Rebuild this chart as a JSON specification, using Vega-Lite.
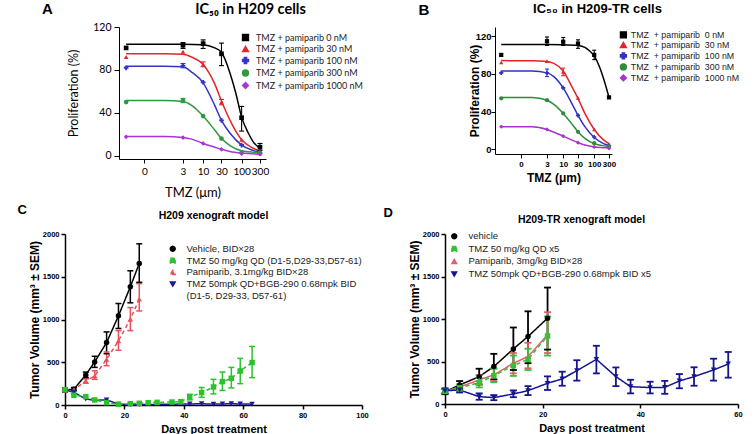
{
  "$schema": "https://vega.github.io/schema/vega-lite/v6.json",
  "background": "white",
  "padding": {"left": 17, "top": 1, "right": 0, "bottom": 0},
  "spacing": 4,
  "resolve": {"scale": {"color": "independent", "shape": "independent", "strokeDash": "independent"}, "legend": {"color": "independent", "shape": "independent", "strokeDash": "independent"}},
  "config": {
    "view": {"stroke": null},
    "axis": {"grid": false, "domainColor": "#000", "tickColor": "#000", "labelColor": "#000", "titleColor": "#000", "labelOverlap": false, "labelFlush": false}
  },
  "datasets": {
    "aPts": [
      {"s": "0 nM", "x": 0.1, "y": 100.5},
      {"s": "0 nM", "x": 3, "y": 103, "lo": 100, "hi": 105.5},
      {"s": "0 nM", "x": 10, "y": 104.5, "lo": 100, "hi": 108},
      {"s": "0 nM", "x": 30, "y": 95, "lo": 84, "hi": 105},
      {"s": "0 nM", "x": 100, "y": 35.5, "lo": 23, "hi": 46},
      {"s": "0 nM", "x": 300, "y": 8, "lo": 5, "hi": 11.5},
      {"s": "30 nM", "x": 0.1, "y": 92},
      {"s": "30 nM", "x": 3, "y": 97},
      {"s": "30 nM", "x": 10, "y": 85, "lo": 83, "hi": 87.5},
      {"s": "30 nM", "x": 30, "y": 50, "lo": 47.5, "hi": 52.5},
      {"s": "30 nM", "x": 100, "y": 15},
      {"s": "30 nM", "x": 300, "y": 2.5},
      {"s": "100 nM", "x": 0.1, "y": 82},
      {"s": "100 nM", "x": 3, "y": 84, "lo": 82, "hi": 86},
      {"s": "100 nM", "x": 10, "y": 68.5},
      {"s": "100 nM", "x": 30, "y": 33},
      {"s": "100 nM", "x": 100, "y": 10},
      {"s": "100 nM", "x": 300, "y": 2.5},
      {"s": "300 nM", "x": 0.1, "y": 50},
      {"s": "300 nM", "x": 3, "y": 51.5, "lo": 49.5, "hi": 53.5},
      {"s": "300 nM", "x": 10, "y": 37},
      {"s": "300 nM", "x": 30, "y": 16},
      {"s": "300 nM", "x": 100, "y": 3},
      {"s": "300 nM", "x": 300, "y": 3},
      {"s": "1000 nM", "x": 0.1, "y": 17.7},
      {"s": "1000 nM", "x": 3, "y": 17},
      {"s": "1000 nM", "x": 10, "y": 11.5},
      {"s": "1000 nM", "x": 30, "y": 6},
      {"s": "1000 nM", "x": 100, "y": 2},
      {"s": "1000 nM", "x": 300, "y": 1.5}
    ],
    "aFit": [
      {"s": "0 nM", "x": 0.1, "y": 104}, {"s": "0 nM", "x": 1, "y": 104}, {"s": "0 nM", "x": 3, "y": 104}, {"s": "0 nM", "x": 10, "y": 103.5}, {"s": "0 nM", "x": 20, "y": 100.5}, {"s": "0 nM", "x": 30, "y": 96.5}, {"s": "0 nM", "x": 50, "y": 77}, {"s": "0 nM", "x": 70, "y": 59}, {"s": "0 nM", "x": 100, "y": 36}, {"s": "0 nM", "x": 150, "y": 21}, {"s": "0 nM", "x": 200, "y": 13}, {"s": "0 nM", "x": 300, "y": 7},
      {"s": "30 nM", "x": 0.1, "y": 95}, {"s": "30 nM", "x": 1, "y": 95}, {"s": "30 nM", "x": 3, "y": 94.5}, {"s": "30 nM", "x": 5, "y": 92}, {"s": "30 nM", "x": 10, "y": 85}, {"s": "30 nM", "x": 20, "y": 67}, {"s": "30 nM", "x": 30, "y": 51}, {"s": "30 nM", "x": 50, "y": 33}, {"s": "30 nM", "x": 100, "y": 15}, {"s": "30 nM", "x": 200, "y": 7}, {"s": "30 nM", "x": 300, "y": 4},
      {"s": "100 nM", "x": 0.1, "y": 83.5}, {"s": "100 nM", "x": 1, "y": 83.5}, {"s": "100 nM", "x": 3, "y": 83}, {"s": "100 nM", "x": 5, "y": 78}, {"s": "100 nM", "x": 10, "y": 68}, {"s": "100 nM", "x": 20, "y": 47}, {"s": "100 nM", "x": 30, "y": 33}, {"s": "100 nM", "x": 50, "y": 21}, {"s": "100 nM", "x": 100, "y": 10}, {"s": "100 nM", "x": 200, "y": 5}, {"s": "100 nM", "x": 300, "y": 3},
      {"s": "300 nM", "x": 0.1, "y": 51.5}, {"s": "300 nM", "x": 1, "y": 51.5}, {"s": "300 nM", "x": 3, "y": 50.5}, {"s": "300 nM", "x": 5, "y": 47}, {"s": "300 nM", "x": 10, "y": 37}, {"s": "300 nM", "x": 20, "y": 24}, {"s": "300 nM", "x": 30, "y": 16}, {"s": "300 nM", "x": 50, "y": 9.5}, {"s": "300 nM", "x": 100, "y": 4.6}, {"s": "300 nM", "x": 300, "y": 2.8},
      {"s": "1000 nM", "x": 0.1, "y": 18}, {"s": "1000 nM", "x": 1, "y": 18}, {"s": "1000 nM", "x": 3, "y": 17}, {"s": "1000 nM", "x": 5, "y": 15.5}, {"s": "1000 nM", "x": 10, "y": 11.5}, {"s": "1000 nM", "x": 20, "y": 8}, {"s": "1000 nM", "x": 30, "y": 6}, {"s": "1000 nM", "x": 50, "y": 4}, {"s": "1000 nM", "x": 100, "y": 2.5}, {"s": "1000 nM", "x": 300, "y": 1.5}
    ],
    "bPts": [
      {"s": "0 nM", "x": 0.1, "y": 100},
      {"s": "0 nM", "x": 3, "y": 114.5, "lo": 110, "hi": 119},
      {"s": "0 nM", "x": 10, "y": 114, "lo": 110, "hi": 118.5},
      {"s": "0 nM", "x": 30, "y": 112, "lo": 107, "hi": 116},
      {"s": "0 nM", "x": 100, "y": 100, "lo": 95, "hi": 105},
      {"s": "0 nM", "x": 300, "y": 55},
      {"s": "30 nM", "x": 0.1, "y": 92},
      {"s": "30 nM", "x": 3, "y": 93.5},
      {"s": "30 nM", "x": 10, "y": 82, "lo": 78, "hi": 86},
      {"s": "30 nM", "x": 30, "y": 54.5},
      {"s": "30 nM", "x": 100, "y": 21},
      {"s": "30 nM", "x": 300, "y": 5.3},
      {"s": "100 nM", "x": 0.1, "y": 81},
      {"s": "100 nM", "x": 3, "y": 81, "lo": 77, "hi": 85},
      {"s": "100 nM", "x": 10, "y": 65},
      {"s": "100 nM", "x": 30, "y": 36},
      {"s": "100 nM", "x": 100, "y": 13},
      {"s": "100 nM", "x": 300, "y": 3.5},
      {"s": "300 nM", "x": 0.1, "y": 54},
      {"s": "300 nM", "x": 3, "y": 52},
      {"s": "300 nM", "x": 10, "y": 38},
      {"s": "300 nM", "x": 30, "y": 18.5},
      {"s": "300 nM", "x": 100, "y": 6.4},
      {"s": "300 nM", "x": 300, "y": 3},
      {"s": "1000 nM", "x": 0.1, "y": 24},
      {"s": "1000 nM", "x": 3, "y": 21},
      {"s": "1000 nM", "x": 10, "y": 14},
      {"s": "1000 nM", "x": 30, "y": 7},
      {"s": "1000 nM", "x": 100, "y": 2.5},
      {"s": "1000 nM", "x": 300, "y": 1}
    ],
    "bFit": [
      {"s": "0 nM", "x": 0.1, "y": 111}, {"s": "0 nM", "x": 1, "y": 111}, {"s": "0 nM", "x": 3, "y": 111}, {"s": "0 nM", "x": 10, "y": 110.8}, {"s": "0 nM", "x": 30, "y": 110}, {"s": "0 nM", "x": 50, "y": 108}, {"s": "0 nM", "x": 70, "y": 104.5}, {"s": "0 nM", "x": 100, "y": 99}, {"s": "0 nM", "x": 150, "y": 87}, {"s": "0 nM", "x": 200, "y": 75}, {"s": "0 nM", "x": 300, "y": 55},
      {"s": "30 nM", "x": 0.1, "y": 94}, {"s": "30 nM", "x": 1, "y": 93.8}, {"s": "30 nM", "x": 3, "y": 93}, {"s": "30 nM", "x": 5, "y": 91}, {"s": "30 nM", "x": 10, "y": 83}, {"s": "30 nM", "x": 20, "y": 65}, {"s": "30 nM", "x": 30, "y": 54}, {"s": "30 nM", "x": 50, "y": 38}, {"s": "30 nM", "x": 100, "y": 21}, {"s": "30 nM", "x": 200, "y": 10}, {"s": "30 nM", "x": 300, "y": 6},
      {"s": "100 nM", "x": 0.1, "y": 83}, {"s": "100 nM", "x": 1, "y": 83}, {"s": "100 nM", "x": 3, "y": 81}, {"s": "100 nM", "x": 5, "y": 77}, {"s": "100 nM", "x": 10, "y": 65}, {"s": "100 nM", "x": 20, "y": 47}, {"s": "100 nM", "x": 30, "y": 36}, {"s": "100 nM", "x": 50, "y": 24}, {"s": "100 nM", "x": 100, "y": 12.5}, {"s": "100 nM", "x": 200, "y": 6}, {"s": "100 nM", "x": 300, "y": 4},
      {"s": "300 nM", "x": 0.1, "y": 55}, {"s": "300 nM", "x": 1, "y": 55}, {"s": "300 nM", "x": 3, "y": 52}, {"s": "300 nM", "x": 5, "y": 47.5}, {"s": "300 nM", "x": 10, "y": 38}, {"s": "300 nM", "x": 20, "y": 26}, {"s": "300 nM", "x": 30, "y": 18.5}, {"s": "300 nM", "x": 50, "y": 11.5}, {"s": "300 nM", "x": 100, "y": 6}, {"s": "300 nM", "x": 300, "y": 3},
      {"s": "1000 nM", "x": 0.1, "y": 24}, {"s": "1000 nM", "x": 1, "y": 24}, {"s": "1000 nM", "x": 3, "y": 21}, {"s": "1000 nM", "x": 5, "y": 18}, {"s": "1000 nM", "x": 10, "y": 14}, {"s": "1000 nM", "x": 20, "y": 9.5}, {"s": "1000 nM", "x": 30, "y": 7}, {"s": "1000 nM", "x": 50, "y": 4.5}, {"s": "1000 nM", "x": 100, "y": 2.5}, {"s": "1000 nM", "x": 300, "y": 1.5}
    ],
    "cPts": [
      {"s": "Vehicle, BID×28", "d": 0, "v": 176, "lo": 150, "hi": 200},
      {"s": "Vehicle, BID×28", "d": 3, "v": 184, "lo": 165, "hi": 205},
      {"s": "Vehicle, BID×28", "d": 7, "v": 352, "lo": 320, "hi": 385},
      {"s": "Vehicle, BID×28", "d": 10, "v": 504, "lo": 440, "hi": 570},
      {"s": "Vehicle, BID×28", "d": 14, "v": 730, "lo": 600, "hi": 855},
      {"s": "Vehicle, BID×28", "d": 18, "v": 1043, "lo": 895, "hi": 1187},
      {"s": "Vehicle, BID×28", "d": 22, "v": 1383, "lo": 1195, "hi": 1570},
      {"s": "Vehicle, BID×28", "d": 25, "v": 1656, "lo": 1435, "hi": 1885},
      {"s": "Pamiparib, 3.1mg/kg BID×28", "d": 0, "v": 170},
      {"s": "Pamiparib, 3.1mg/kg BID×28", "d": 3, "v": 180},
      {"s": "Pamiparib, 3.1mg/kg BID×28", "d": 7, "v": 281, "lo": 255, "hi": 305},
      {"s": "Pamiparib, 3.1mg/kg BID×28", "d": 10, "v": 340, "lo": 300, "hi": 400},
      {"s": "Pamiparib, 3.1mg/kg BID×28", "d": 14, "v": 535, "lo": 460, "hi": 620},
      {"s": "Pamiparib, 3.1mg/kg BID×28", "d": 18, "v": 750, "lo": 640, "hi": 870},
      {"s": "Pamiparib, 3.1mg/kg BID×28", "d": 22, "v": 1004, "lo": 870, "hi": 1140},
      {"s": "Pamiparib, 3.1mg/kg BID×28", "d": 25, "v": 1238, "lo": 1100, "hi": 1420},
      {"s": "TMZ 50mpk QD+BGB-290 0.68mpk BID (D1-5, D29-33, D57-61)", "d": 0, "v": 175},
      {"s": "TMZ 50mpk QD+BGB-290 0.68mpk BID (D1-5, D29-33, D57-61)", "d": 3, "v": 150},
      {"s": "TMZ 50mpk QD+BGB-290 0.68mpk BID (D1-5, D29-33, D57-61)", "d": 7, "v": 70},
      {"s": "TMZ 50mpk QD+BGB-290 0.68mpk BID (D1-5, D29-33, D57-61)", "d": 10, "v": 55},
      {"s": "TMZ 50mpk QD+BGB-290 0.68mpk BID (D1-5, D29-33, D57-61)", "d": 14, "v": 60},
      {"s": "TMZ 50mpk QD+BGB-290 0.68mpk BID (D1-5, D29-33, D57-61)", "d": 18, "v": 10},
      {"s": "TMZ 50mpk QD+BGB-290 0.68mpk BID (D1-5, D29-33, D57-61)", "d": 22, "v": 5},
      {"s": "TMZ 50mpk QD+BGB-290 0.68mpk BID (D1-5, D29-33, D57-61)", "d": 25, "v": 5},
      {"s": "TMZ 50mpk QD+BGB-290 0.68mpk BID (D1-5, D29-33, D57-61)", "d": 42, "v": 12},
      {"s": "TMZ 50mpk QD+BGB-290 0.68mpk BID (D1-5, D29-33, D57-61)", "d": 46, "v": 15},
      {"s": "TMZ 50mpk QD+BGB-290 0.68mpk BID (D1-5, D29-33, D57-61)", "d": 50, "v": 10},
      {"s": "TMZ 50mpk QD+BGB-290 0.68mpk BID (D1-5, D29-33, D57-61)", "d": 53, "v": 12},
      {"s": "TMZ 50mpk QD+BGB-290 0.68mpk BID (D1-5, D29-33, D57-61)", "d": 56, "v": 15},
      {"s": "TMZ 50mpk QD+BGB-290 0.68mpk BID (D1-5, D29-33, D57-61)", "d": 59, "v": 12},
      {"s": "TMZ 50mpk QD+BGB-290 0.68mpk BID (D1-5, D29-33, D57-61)", "d": 63, "v": 10},
      {"s": "TMZ 50 mg/kg QD (D1-5,D29-33,D57-61)", "d": 0, "v": 180},
      {"s": "TMZ 50 mg/kg QD (D1-5,D29-33,D57-61)", "d": 3, "v": 113},
      {"s": "TMZ 50 mg/kg QD (D1-5,D29-33,D57-61)", "d": 7, "v": 98},
      {"s": "TMZ 50 mg/kg QD (D1-5,D29-33,D57-61)", "d": 10, "v": 59},
      {"s": "TMZ 50 mg/kg QD (D1-5,D29-33,D57-61)", "d": 14, "v": 27},
      {"s": "TMZ 50 mg/kg QD (D1-5,D29-33,D57-61)", "d": 18, "v": 8},
      {"s": "TMZ 50 mg/kg QD (D1-5,D29-33,D57-61)", "d": 22, "v": 16},
      {"s": "TMZ 50 mg/kg QD (D1-5,D29-33,D57-61)", "d": 25, "v": 20},
      {"s": "TMZ 50 mg/kg QD (D1-5,D29-33,D57-61)", "d": 28, "v": 27},
      {"s": "TMZ 50 mg/kg QD (D1-5,D29-33,D57-61)", "d": 31, "v": 31},
      {"s": "TMZ 50 mg/kg QD (D1-5,D29-33,D57-61)", "d": 36, "v": 35},
      {"s": "TMZ 50 mg/kg QD (D1-5,D29-33,D57-61)", "d": 39, "v": 39},
      {"s": "TMZ 50 mg/kg QD (D1-5,D29-33,D57-61)", "d": 42, "v": 94, "lo": 60, "hi": 125},
      {"s": "TMZ 50 mg/kg QD (D1-5,D29-33,D57-61)", "d": 46, "v": 145, "lo": 90, "hi": 205},
      {"s": "TMZ 50 mg/kg QD (D1-5,D29-33,D57-61)", "d": 50, "v": 211, "lo": 130, "hi": 300},
      {"s": "TMZ 50 mg/kg QD (D1-5,D29-33,D57-61)", "d": 53, "v": 273, "lo": 170, "hi": 385},
      {"s": "TMZ 50 mg/kg QD (D1-5,D29-33,D57-61)", "d": 56, "v": 312, "lo": 200, "hi": 440},
      {"s": "TMZ 50 mg/kg QD (D1-5,D29-33,D57-61)", "d": 59, "v": 398, "lo": 250, "hi": 545},
      {"s": "TMZ 50 mg/kg QD (D1-5,D29-33,D57-61)", "d": 63, "v": 496, "lo": 320, "hi": 685}
    ],
    "dPts": [
      {"s": "vehicle", "d": 0, "v": 145, "lo": 115, "hi": 175},
      {"s": "vehicle", "d": 3, "v": 224, "lo": 175, "hi": 270},
      {"s": "vehicle", "d": 7, "v": 322, "lo": 230, "hi": 415},
      {"s": "vehicle", "d": 10, "v": 440, "lo": 290, "hi": 590},
      {"s": "vehicle", "d": 14, "v": 648, "lo": 400, "hi": 900},
      {"s": "vehicle", "d": 17, "v": 794, "lo": 480, "hi": 1090},
      {"s": "vehicle", "d": 21, "v": 1010, "lo": 640, "hi": 1370},
      {"s": "Pamiparib, 3mg/kg BID×28", "d": 0, "v": 150},
      {"s": "Pamiparib, 3mg/kg BID×28", "d": 3, "v": 200},
      {"s": "Pamiparib, 3mg/kg BID×28", "d": 7, "v": 283, "lo": 230, "hi": 340},
      {"s": "Pamiparib, 3mg/kg BID×28", "d": 10, "v": 342, "lo": 270, "hi": 420},
      {"s": "Pamiparib, 3mg/kg BID×28", "d": 14, "v": 479, "lo": 360, "hi": 600},
      {"s": "Pamiparib, 3mg/kg BID×28", "d": 17, "v": 558, "lo": 420, "hi": 720},
      {"s": "Pamiparib, 3mg/kg BID×28", "d": 21, "v": 813, "lo": 600, "hi": 1080},
      {"s": "TMZ 50 mg/kg QD x5", "d": 0, "v": 150, "lo": 125, "hi": 180},
      {"s": "TMZ 50 mg/kg QD x5", "d": 3, "v": 190, "lo": 150, "hi": 230},
      {"s": "TMZ 50 mg/kg QD x5", "d": 7, "v": 250, "lo": 195, "hi": 305},
      {"s": "TMZ 50 mg/kg QD x5", "d": 10, "v": 334, "lo": 255, "hi": 415},
      {"s": "TMZ 50 mg/kg QD x5", "d": 14, "v": 452, "lo": 330, "hi": 570},
      {"s": "TMZ 50 mg/kg QD x5", "d": 17, "v": 526, "lo": 400, "hi": 650},
      {"s": "TMZ 50 mg/kg QD x5", "d": 21, "v": 800, "lo": 570, "hi": 1030},
      {"s": "TMZ 50mpk QD+BGB-290 0.68mpk BID x5", "d": 0, "v": 155, "lo": 125, "hi": 185},
      {"s": "TMZ 50mpk QD+BGB-290 0.68mpk BID x5", "d": 3, "v": 165, "lo": 135, "hi": 195},
      {"s": "TMZ 50mpk QD+BGB-290 0.68mpk BID x5", "d": 7, "v": 86, "lo": 50, "hi": 125},
      {"s": "TMZ 50mpk QD+BGB-290 0.68mpk BID x5", "d": 10, "v": 75, "lo": 45, "hi": 105},
      {"s": "TMZ 50mpk QD+BGB-290 0.68mpk BID x5", "d": 14, "v": 118, "lo": 80, "hi": 160},
      {"s": "TMZ 50mpk QD+BGB-290 0.68mpk BID x5", "d": 17, "v": 157, "lo": 105, "hi": 210},
      {"s": "TMZ 50mpk QD+BGB-290 0.68mpk BID x5", "d": 21, "v": 244, "lo": 165, "hi": 325},
      {"s": "TMZ 50mpk QD+BGB-290 0.68mpk BID x5", "d": 24, "v": 295, "lo": 215, "hi": 380},
      {"s": "TMZ 50mpk QD+BGB-290 0.68mpk BID x5", "d": 27, "v": 393, "lo": 275, "hi": 515},
      {"s": "TMZ 50mpk QD+BGB-290 0.68mpk BID x5", "d": 31, "v": 526, "lo": 360, "hi": 685},
      {"s": "TMZ 50mpk QD+BGB-290 0.68mpk BID x5", "d": 35, "v": 322, "lo": 210, "hi": 430},
      {"s": "TMZ 50mpk QD+BGB-290 0.68mpk BID x5", "d": 38, "v": 204, "lo": 125, "hi": 285},
      {"s": "TMZ 50mpk QD+BGB-290 0.68mpk BID x5", "d": 42, "v": 193, "lo": 125, "hi": 262},
      {"s": "TMZ 50mpk QD+BGB-290 0.68mpk BID x5", "d": 45, "v": 196, "lo": 120, "hi": 272},
      {"s": "TMZ 50mpk QD+BGB-290 0.68mpk BID x5", "d": 48, "v": 271, "lo": 185, "hi": 352},
      {"s": "TMZ 50mpk QD+BGB-290 0.68mpk BID x5", "d": 51, "v": 322, "lo": 215, "hi": 432},
      {"s": "TMZ 50mpk QD+BGB-290 0.68mpk BID x5", "d": 55, "v": 401, "lo": 275, "hi": 533},
      {"s": "TMZ 50mpk QD+BGB-290 0.68mpk BID x5", "d": 58, "v": 471, "lo": 310, "hi": 612}
    ]
  },
  "vconcat": [
    {
      "spacing": -27,
      "resolve": {"scale": {"color": "independent", "shape": "independent", "strokeDash": "independent"}, "legend": {"color": "independent", "shape": "independent", "strokeDash": "independent"}},
      "hconcat": [
        {"width": 1, "height": 1, "data": {"values": [{"k": 0}]}, "mark": {"type": "point", "opacity": 0}, "encoding": {}},
        {
          "spacing": 55,
          "resolve": {"scale": {"color": "independent", "shape": "independent", "strokeDash": "independent"}, "legend": {"color": "independent", "shape": "independent", "strokeDash": "independent"}},
          "hconcat": [
            {
              "title": {"text": "A", "orient": "left", "anchor": "end", "angle": 0, "align": "right", "baseline": "top", "offset": 4, "font": "Liberation Sans", "fontSize": 15, "fontWeight": "bold", "color": "#000"},
              "vconcat": [
                {
                  "width": 147,
                  "height": 132,
                  "title": {"text": "IC₅₀ in H209 cells", "font": "Lato, Noto Sans", "fontSize": 14.5, "fontWeight": "bold", "color": "#000", "anchor": "middle", "dx": 58, "offset": 5},
                  "layer": [
                    {
                      "data": {"name": "aFit"},
                      "mark": {"type": "line", "interpolate": "monotone", "strokeWidth": 1.5},
                      "encoding": {
                        "x": {"field": "x", "type": "quantitative", "title": "TMZ (μm)", "scale": {"type": "log", "domain": [0.0653, 430], "nice": false},
                          "axis": {"values": [0.3, 3, 10, 30, 100, 300], "labelExpr": "datum.value < 1 ? '0' : format(datum.value, 'd')", "labelOverlap": false, "titleFont": "Lato", "titleFontSize": 13, "titleFontWeight": "normal", "titlePadding": 10, "labelFont": "Lato", "labelFontSize": 10, "labelPadding": 3, "tickSize": 4}},
                        "y": {"field": "y", "type": "quantitative", "title": "Proliferation (%)", "scale": {"domain": [-3, 120], "nice": false, "zero": false},
                          "axis": {"values": [0, 20, 40, 60, 80, 100, 120], "labelOverlap": false, "titleFont": "Lato", "titleFontSize": 12.5, "titleFontWeight": "normal", "titlePadding": 12, "labelFont": "Lato", "labelFontSize": 10.5, "labelPadding": 3, "tickSize": 5}},
                        "color": {"field": "s", "type": "nominal",
                          "scale": {"domain": ["0 nM", "30 nM", "100 nM", "300 nM", "1000 nM"], "range": ["#000000", "#e5262b", "#3434c9", "#2f9a3c", "#a835d8"]},
                          "legend": {"orient": "none", "legendX": 115, "legendY": 6, "title": null, "padding": 0,
                            "labelFont": "Lato", "labelFontSize": 9, "labelColor": "#222", "labelExpr": "'TMZ + pamiparib ' + datum.label",
                            "symbolSize": 36, "symbolOffset": 7, "labelOffset": 6, "rowPadding": -0.5, "symbolStrokeWidth": 1.3}}
                      }
                    },
                    {
                      "data": {"name": "aPts"},
                      "mark": {"type": "rule", "strokeWidth": 1.1},
                      "encoding": {
                        "x": {"field": "x", "type": "quantitative", "title": "TMZ (μm)"},
                        "y": {"field": "lo", "type": "quantitative", "title": "Proliferation (%)"},
                        "y2": {"field": "hi"},
                        "color": {"field": "s", "type": "nominal"}
                      }
                    },
                    {
                      "data": {"name": "aPts"},
                      "mark": {"type": "tick", "orient": "horizontal", "size": 5, "thickness": 1.1, "opacity": 1},
                      "encoding": {
                        "x": {"field": "x", "type": "quantitative", "title": "TMZ (μm)"},
                        "y": {"field": "hi", "type": "quantitative", "title": "Proliferation (%)"},
                        "color": {"field": "s", "type": "nominal"}
                      }
                    },
                    {
                      "data": {"name": "aPts"},
                      "mark": {"type": "tick", "orient": "horizontal", "size": 5, "thickness": 1.1, "opacity": 1},
                      "encoding": {
                        "x": {"field": "x", "type": "quantitative", "title": "TMZ (μm)"},
                        "y": {"field": "lo", "type": "quantitative", "title": "Proliferation (%)"},
                        "color": {"field": "s", "type": "nominal"}
                      }
                    },
                    {
                      "data": {"name": "aPts"},
                      "mark": {"type": "point", "filled": true, "size": 22, "opacity": 1},
                      "encoding": {
                        "x": {"field": "x", "type": "quantitative", "title": "TMZ (μm)"},
                        "y": {"field": "y", "type": "quantitative", "title": "Proliferation (%)"},
                        "color": {"field": "s", "type": "nominal"},
                        "shape": {"field": "s", "type": "nominal", "scale": {"domain": ["0 nM", "30 nM", "100 nM", "300 nM", "1000 nM"], "range": ["square", "triangle-up", "cross", "circle", "diamond"]}, "legend": null}
                      }
                    }
                  ]
                }
              ]
            },
            {
              "title": {"text": "B", "orient": "left", "anchor": "end", "angle": 0, "align": "right", "baseline": "top", "offset": 28, "font": "Liberation Sans", "fontSize": 15, "fontWeight": "bold", "color": "#000"},
              "vconcat": [
                {
                  "width": 117,
                  "height": 127,
                  "title": {"text": "IC₅₀ in H209-TR cells", "font": "Liberation Sans, Noto Sans", "fontSize": 13, "fontWeight": "bold", "color": "#000", "anchor": "middle", "dx": 44, "offset": 11},
                  "layer": [
                    {
                      "data": {"name": "bFit"},
                      "mark": {"type": "line", "interpolate": "monotone", "strokeWidth": 1.5},
                      "encoding": {
                        "x": {"field": "x", "type": "quantitative", "title": "TMZ (μm)", "scale": {"type": "log", "domain": [0.063, 375], "nice": false},
                          "axis": {"values": [0.43, 3, 10, 30, 100, 300], "labelExpr": "datum.value < 1 ? '0' : format(datum.value, 'd')", "labelOverlap": false, "titleFont": "Liberation Sans", "titleFontSize": 12, "titleFontWeight": "bold", "titlePadding": 4, "labelFont": "Liberation Sans", "labelFontSize": 8, "labelFontWeight": "bold", "labelPadding": 2, "tickSize": 4}},
                        "y": {"field": "y", "type": "quantitative", "title": "Proliferation  (%)", "scale": {"domain": [-5, 129.6], "nice": false, "zero": false},
                          "axis": {"values": [0, 20, 40, 60, 80, 100, 120], "labelOverlap": false, "titleFont": "Liberation Sans", "titleFontSize": 12, "titleFontWeight": "bold", "titlePadding": -6, "labelFont": "Liberation Sans", "labelFontSize": 9.5, "labelFontWeight": "bold", "labelPadding": 0, "tickSize": 4}},
                        "color": {"field": "s", "type": "nominal",
                          "scale": {"domain": ["0 nM", "30 nM", "100 nM", "300 nM", "1000 nM"], "range": ["#000000", "#e3222a", "#2f33c0", "#2f8d3a", "#a832cf"]},
                          "legend": {"orient": "none", "legendX": 117, "legendY": 3.5, "title": null, "padding": 0,
                            "labelFont": "Liberation Sans", "labelFontSize": 8.8, "labelColor": "#222", "labelExpr": "'TMZ\u00a0 + pamiparib\u00a0 ' + datum.label",
                            "symbolSize": 36, "symbolOffset": 7, "labelOffset": 3, "rowPadding": -1, "symbolStrokeWidth": 1.3}}
                      }
                    },
                    {
                      "data": {"name": "bPts"},
                      "mark": {"type": "rule", "strokeWidth": 1.1},
                      "encoding": {
                        "x": {"field": "x", "type": "quantitative", "title": "TMZ (μm)"},
                        "y": {"field": "lo", "type": "quantitative", "title": "Proliferation  (%)"},
                        "y2": {"field": "hi"},
                        "color": {"field": "s", "type": "nominal"}
                      }
                    },
                    {
                      "data": {"name": "bPts"},
                      "mark": {"type": "tick", "orient": "horizontal", "size": 4, "thickness": 1.1, "opacity": 1},
                      "encoding": {
                        "x": {"field": "x", "type": "quantitative", "title": "TMZ (μm)"},
                        "y": {"field": "hi", "type": "quantitative", "title": "Proliferation  (%)"},
                        "color": {"field": "s", "type": "nominal"}
                      }
                    },
                    {
                      "data": {"name": "bPts"},
                      "mark": {"type": "tick", "orient": "horizontal", "size": 4, "thickness": 1.1, "opacity": 1},
                      "encoding": {
                        "x": {"field": "x", "type": "quantitative", "title": "TMZ (μm)"},
                        "y": {"field": "lo", "type": "quantitative", "title": "Proliferation  (%)"},
                        "color": {"field": "s", "type": "nominal"}
                      }
                    },
                    {
                      "data": {"name": "bPts"},
                      "mark": {"type": "point", "filled": true, "size": 18, "opacity": 1},
                      "encoding": {
                        "x": {"field": "x", "type": "quantitative", "title": "TMZ (μm)"},
                        "y": {"field": "y", "type": "quantitative", "title": "Proliferation  (%)"},
                        "color": {"field": "s", "type": "nominal"},
                        "shape": {"field": "s", "type": "nominal", "scale": {"domain": ["0 nM", "30 nM", "100 nM", "300 nM", "1000 nM"], "range": ["square", "triangle-up", "cross", "circle", "diamond"]}, "legend": null}
                      }
                    }
                  ]
                }
              ]
            }
          ]
        }
      ]
    },
    {
      "spacing": 14,
      "resolve": {"scale": {"color": "independent", "shape": "independent", "strokeDash": "independent"}, "legend": {"color": "independent", "shape": "independent", "strokeDash": "independent"}},
      "hconcat": [
        {
          "title": {"text": "C", "orient": "left", "anchor": "end", "angle": 0, "align": "right", "baseline": "top", "offset": -8, "dy": -7, "font": "Liberation Sans", "fontSize": 13, "fontWeight": "bold", "color": "#000"},
          "vconcat": [
            {
              "width": 297,
              "height": 171,
              "title": {"text": "H209 xenograft model", "font": "Liberation Sans", "fontSize": 10.5, "fontWeight": "bold", "color": "#000", "anchor": "middle", "offset": 9},
              "layer": [
                {
                  "data": {"name": "cPts"},
                  "mark": {"type": "line", "strokeWidth": 1.5},
                  "encoding": {
                    "x": {"field": "d", "type": "quantitative", "title": "Days post treatment", "scale": {"domain": [0, 100], "nice": false},
                      "axis": {"values": [0, 20, 40, 60, 80, 100], "labelOverlap": false, "titleFont": "Liberation Sans", "titleFontSize": 11, "titleFontWeight": "bold", "titlePadding": 5, "labelFont": "Liberation Sans", "labelFontSize": 7.5, "labelFontWeight": "bold", "labelPadding": 2, "tickSize": 4, "domainWidth": 1.5, "tickWidth": 1.5}},
                    "y": {"field": "v", "type": "quantitative", "title": "Tumor Volume (mm³ ± SEM)", "scale": {"domain": [0, 2000], "nice": false},
                      "axis": {"values": [0, 500, 1000, 1500, 2000], "format": "d", "labelOverlap": false, "titleFont": "Liberation Sans", "titleFontSize": 12, "titleFontWeight": "bold", "titlePadding": 1, "labelFont": "Liberation Sans", "labelFontSize": 7.5, "labelFontWeight": "bold", "labelPadding": 2, "tickSize": 4, "domainWidth": 1.5, "tickWidth": 1.5}},
                    "color": {"field": "s", "type": "nominal",
                      "scale": {"domain": ["Vehicle, BID×28", "TMZ 50 mg/kg QD (D1-5,D29-33,D57-61)", "Pamiparib, 3.1mg/kg BID×28", "TMZ 50mpk QD+BGB-290 0.68mpk BID (D1-5, D29-33, D57-61)"], "range": ["#000000", "#2ec12e", "#e8515c", "#1b1b9a"]},
                      "legend": {"orient": "none", "legendX": 99, "legendY": 10, "title": null, "padding": 0,
                        "labelFont": "Liberation Sans", "labelFontSize": 9.5, "labelColor": "#222", "labelLimit": 300,
                        "labelExpr": "datum.label == 'TMZ 50mpk QD+BGB-290 0.68mpk BID (D1-5, D29-33, D57-61)' ? ['TMZ 50mpk QD+BGB-290 0.68mpk BID', '(D1-5, D29-33, D57-61)'] : datum.label",
                        "symbolSize": 25, "symbolOffset": 4, "labelOffset": 9, "rowPadding": 0.8, "symbolStrokeWidth": 1.3}},
                    "strokeDash": {"field": "s", "type": "nominal", "scale": {"domain": ["Vehicle, BID×28", "TMZ 50 mg/kg QD (D1-5,D29-33,D57-61)", "Pamiparib, 3.1mg/kg BID×28", "TMZ 50mpk QD+BGB-290 0.68mpk BID (D1-5, D29-33, D57-61)"], "range": [[1, 0], [4, 3], [4, 3], [1, 0]]}, "legend": null}
                  }
                },
                {
                  "data": {"name": "cPts"},
                  "mark": {"type": "rule", "strokeWidth": 1.5},
                  "encoding": {
                    "x": {"field": "d", "type": "quantitative", "title": "Days post treatment"},
                    "y": {"field": "lo", "type": "quantitative", "title": "Tumor Volume (mm³ ± SEM)"},
                    "y2": {"field": "hi"},
                    "color": {"field": "s", "type": "nominal"}
                  }
                },
                {
                  "data": {"name": "cPts"},
                  "mark": {"type": "tick", "orient": "horizontal", "size": 6, "thickness": 1.5, "opacity": 1},
                  "encoding": {
                    "x": {"field": "d", "type": "quantitative", "title": "Days post treatment"},
                    "y": {"field": "hi", "type": "quantitative", "title": "Tumor Volume (mm³ ± SEM)"},
                    "color": {"field": "s", "type": "nominal"}
                  }
                },
                {
                  "data": {"name": "cPts"},
                  "mark": {"type": "tick", "orient": "horizontal", "size": 6, "thickness": 1.5, "opacity": 1},
                  "encoding": {
                    "x": {"field": "d", "type": "quantitative", "title": "Days post treatment"},
                    "y": {"field": "lo", "type": "quantitative", "title": "Tumor Volume (mm³ ± SEM)"},
                    "color": {"field": "s", "type": "nominal"}
                  }
                },
                {
                  "data": {"name": "cPts"},
                  "mark": {"type": "point", "filled": true, "size": 30, "opacity": 1},
                  "encoding": {
                    "x": {"field": "d", "type": "quantitative", "title": "Days post treatment"},
                    "y": {"field": "v", "type": "quantitative", "title": "Tumor Volume (mm³ ± SEM)"},
                    "color": {"field": "s", "type": "nominal"},
                    "shape": {"field": "s", "type": "nominal", "scale": {"domain": ["Vehicle, BID×28", "TMZ 50 mg/kg QD (D1-5,D29-33,D57-61)", "Pamiparib, 3.1mg/kg BID×28", "TMZ 50mpk QD+BGB-290 0.68mpk BID (D1-5, D29-33, D57-61)"], "range": ["circle", "square", "triangle-up", "triangle-down"]}, "legend": null}
                  }
                }
              ]
            }
          ]
        },
        {
          "title": {"text": "D", "orient": "left", "anchor": "end", "angle": 0, "align": "right", "baseline": "top", "offset": 6, "dy": -8, "font": "Liberation Sans", "fontSize": 13, "fontWeight": "bold", "color": "#000"},
          "vconcat": [
            {
              "width": 293,
              "height": 170,
              "title": {"text": "H209-TR xenograft model", "font": "Liberation Sans", "fontSize": 10.5, "fontWeight": "bold", "color": "#000", "anchor": "middle", "dx": -10, "offset": 5},
              "layer": [
                {
                  "data": {"name": "dPts"},
                  "mark": {"type": "line", "strokeWidth": 1.5},
                  "encoding": {
                    "x": {"field": "d", "type": "quantitative", "title": "Days post treatment", "scale": {"domain": [0, 60], "nice": false},
                      "axis": {"values": [0, 20, 40, 60], "labelOverlap": false, "titleFont": "Liberation Sans", "titleFontSize": 11, "titleFontWeight": "bold", "titlePadding": 5, "labelFont": "Liberation Sans", "labelFontSize": 7.5, "labelFontWeight": "bold", "labelPadding": 2, "tickSize": 4, "domainWidth": 1.5, "tickWidth": 1.5}},
                    "y": {"field": "v", "type": "quantitative", "title": "Tumor Volume (mm³ ± SEM)", "scale": {"domain": [0, 2000], "nice": false},
                      "axis": {"values": [0, 500, 1000, 1500, 2000], "format": "d", "labelOverlap": false, "titleFont": "Liberation Sans", "titleFontSize": 12, "titleFontWeight": "bold", "titlePadding": 1, "labelFont": "Liberation Sans", "labelFontSize": 7.5, "labelFontWeight": "bold", "labelPadding": 2, "tickSize": 4, "domainWidth": 1.5, "tickWidth": 1.5}},
                    "color": {"field": "s", "type": "nominal",
                      "scale": {"domain": ["vehicle", "TMZ 50 mg/kg QD x5", "Pamiparib, 3mg/kg BID×28", "TMZ 50mpk QD+BGB-290 0.68mpk BID x5"], "range": ["#000000", "#35c035", "#e06070", "#15158f"]},
                      "legend": {"orient": "none", "legendX": 0.5, "legendY": -2.5, "title": null, "padding": 0,
                        "labelFont": "Liberation Sans", "labelFontSize": 9.5, "labelColor": "#222", "labelLimit": 300,
                        "symbolSize": 25, "symbolOffset": 4, "labelOffset": 9.5, "rowPadding": 1.6, "symbolStrokeWidth": 1.3}},
                    "strokeDash": {"field": "s", "type": "nominal", "scale": {"domain": ["vehicle", "TMZ 50 mg/kg QD x5", "Pamiparib, 3mg/kg BID×28", "TMZ 50mpk QD+BGB-290 0.68mpk BID x5"], "range": [[1, 0], [4, 3], [1, 0], [1, 0]]}, "legend": null}
                  }
                },
                {
                  "data": {"name": "dPts"},
                  "mark": {"type": "rule", "strokeWidth": 1.8},
                  "encoding": {
                    "x": {"field": "d", "type": "quantitative", "title": "Days post treatment"},
                    "y": {"field": "lo", "type": "quantitative", "title": "Tumor Volume (mm³ ± SEM)"},
                    "y2": {"field": "hi"},
                    "color": {"field": "s", "type": "nominal"}
                  }
                },
                {
                  "data": {"name": "dPts"},
                  "mark": {"type": "tick", "orient": "horizontal", "size": 7, "thickness": 1.8, "opacity": 1},
                  "encoding": {
                    "x": {"field": "d", "type": "quantitative", "title": "Days post treatment"},
                    "y": {"field": "hi", "type": "quantitative", "title": "Tumor Volume (mm³ ± SEM)"},
                    "color": {"field": "s", "type": "nominal"}
                  }
                },
                {
                  "data": {"name": "dPts"},
                  "mark": {"type": "tick", "orient": "horizontal", "size": 7, "thickness": 1.8, "opacity": 1},
                  "encoding": {
                    "x": {"field": "d", "type": "quantitative", "title": "Days post treatment"},
                    "y": {"field": "lo", "type": "quantitative", "title": "Tumor Volume (mm³ ± SEM)"},
                    "color": {"field": "s", "type": "nominal"}
                  }
                },
                {
                  "data": {"name": "dPts"},
                  "mark": {"type": "point", "filled": true, "size": 30, "opacity": 1},
                  "encoding": {
                    "x": {"field": "d", "type": "quantitative", "title": "Days post treatment"},
                    "y": {"field": "v", "type": "quantitative", "title": "Tumor Volume (mm³ ± SEM)"},
                    "color": {"field": "s", "type": "nominal"},
                    "shape": {"field": "s", "type": "nominal", "scale": {"domain": ["vehicle", "TMZ 50 mg/kg QD x5", "Pamiparib, 3mg/kg BID×28", "TMZ 50mpk QD+BGB-290 0.68mpk BID x5"], "range": ["circle", "square", "triangle-up", "triangle-down"]}, "legend": null}
                  }
                }
              ]
            }
          ]
        }
      ]
    }
  ]
}
